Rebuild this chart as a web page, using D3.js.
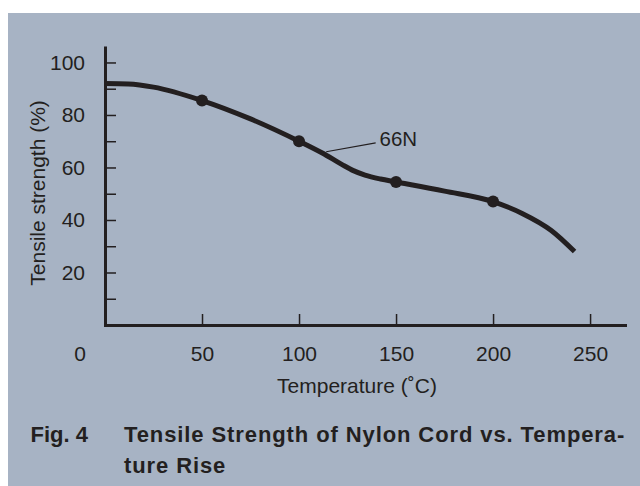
<!DOCTYPE html>
<html>
<head>
<meta charset="utf-8">
<script src="https://cdn.jsdelivr.net/npm/d3@7/dist/d3.min.js"></script>
<style>
  html, body { margin: 0; padding: 0; background: #ffffff; }
  svg { display: block; }
  text { font-family: "Liberation Sans", Arial, Helvetica, sans-serif; fill: #231f20; }
</style>
</head>
<body>
<svg id="chart" width="640" height="486"></svg>
<script>
// ---- data ----
const xTickValues = [50, 100, 150, 200, 250];
const yTickValues = [10, 20, 30, 40, 50, 60, 70, 80, 90, 100];
const yLabelValues = [20, 40, 60, 80, 100];
const temperature = [0, 12, 25, 50, 75, 100, 112, 122, 128, 134, 142, 150, 175, 200, 215, 230, 242];
const strength    = [92, 91.8, 90.6, 85.5, 78.5, 70, 65.5, 61.2, 58.8, 57.1, 55.6, 54.5, 51, 47, 42.5, 36, 28];
const markerTemps = [50, 100, 150, 200];
const markerStrength = [85.5, 70, 54.5, 47];
const seriesLabel = "66N";
const xTitle = "Temperature (˚C)";
const yTitle = "Tensile strength (%)";
const figLabel = "Fig. 4";
const captionLines = ["Tensile Strength of Nylon Cord vs. Tempera-", "ture Rise"];

// ---- layout ----
const svg = d3.select("#chart");
const ink = "#231f20";

svg.append("rect")
  .attr("x", 8).attr("y", 13).attr("width", 632).attr("height", 473)
  .attr("fill", "#a7b3c4");

const x = d3.scaleLinear().domain([0, 268]).range([105, 625]);
const y = d3.scaleLinear().domain([0, 105.7]).range([325, 47.5]);

// x axis
const gx = svg.append("g").attr("transform", `translate(0,${y(0)})`)
  .call(d3.axisBottom(x).tickValues(xTickValues).tickSize(-11).tickSizeOuter(0).tickPadding(21));
gx.select(".domain").attr("stroke", ink).attr("stroke-width", 3).attr("stroke-linecap", "square");
gx.selectAll(".tick line").attr("stroke", ink).attr("stroke-width", 1.5);
gx.selectAll(".tick text").attr("font-size", 21).attr("fill", ink)
  .attr("font-family", "Liberation Sans, Arial, sans-serif");

// origin label
svg.append("text")
  .attr("x", x(0) - 25).attr("y", y(0) + 35.7)
  .attr("text-anchor", "middle").attr("font-size", 21).text("0");

// y axis
const gy = svg.append("g").attr("transform", `translate(${x(0)},0)`)
  .call(d3.axisLeft(y).tickValues(yTickValues).tickSize(-11).tickSizeOuter(0).tickPadding(20)
    .tickFormat(d => yLabelValues.includes(d) ? d : ""));
gy.select(".domain").attr("stroke", ink).attr("stroke-width", 3).attr("stroke-linecap", "square");
gy.selectAll(".tick line").attr("stroke", ink).attr("stroke-width", 1.5);
gy.selectAll(".tick text").attr("font-size", 21).attr("fill", ink)
  .attr("font-family", "Liberation Sans, Arial, sans-serif");

// axis titles
svg.append("text")
  .attr("x", (x(0) + x(268)) / 2 - 8).attr("y", y(0) + 67.5)
  .attr("text-anchor", "middle").attr("font-size", 21).text(xTitle);

svg.append("text")
  .attr("transform", `translate(45,${y(50.3)}) rotate(-90)`)
  .attr("text-anchor", "middle").attr("font-size", 21).text(yTitle);

// curve
const pts = temperature.map((t, i) => [t, strength[i]]);
const line = d3.line().x(d => x(d[0])).y(d => y(d[1])).curve(d3.curveMonotoneX);
svg.append("path").attr("d", line(pts))
  .attr("fill", "none").attr("stroke", ink).attr("stroke-width", 5);

svg.selectAll("circle.m").data(markerTemps).enter().append("circle")
  .attr("class", "m")
  .attr("cx", d => x(d)).attr("cy", (d, i) => y(markerStrength[i]))
  .attr("r", 6).attr("fill", ink);

// series annotation
svg.append("line")
  .attr("x1", x(114)).attr("y1", y(66))
  .attr("x2", x(139.5)).attr("y2", y(69.4))
  .attr("stroke", ink).attr("stroke-width", 1.2);
svg.append("text")
  .attr("x", x(141.5)).attr("y", y(68))
  .attr("font-size", 20.5).text(seriesLabel);

// caption
svg.append("text").attr("x", 30.5).attr("y", 442)
  .attr("font-size", 22).attr("font-weight", "bold").text(figLabel);
svg.selectAll("text.cap").data(captionLines).enter().append("text")
  .attr("class", "cap")
  .attr("x", 124).attr("y", (d, i) => 442 + i * 30.7)
  .attr("font-size", 22).attr("font-weight", "bold").attr("letter-spacing", 0.9)
  .text(d => d);
</script>
</body>
</html>
